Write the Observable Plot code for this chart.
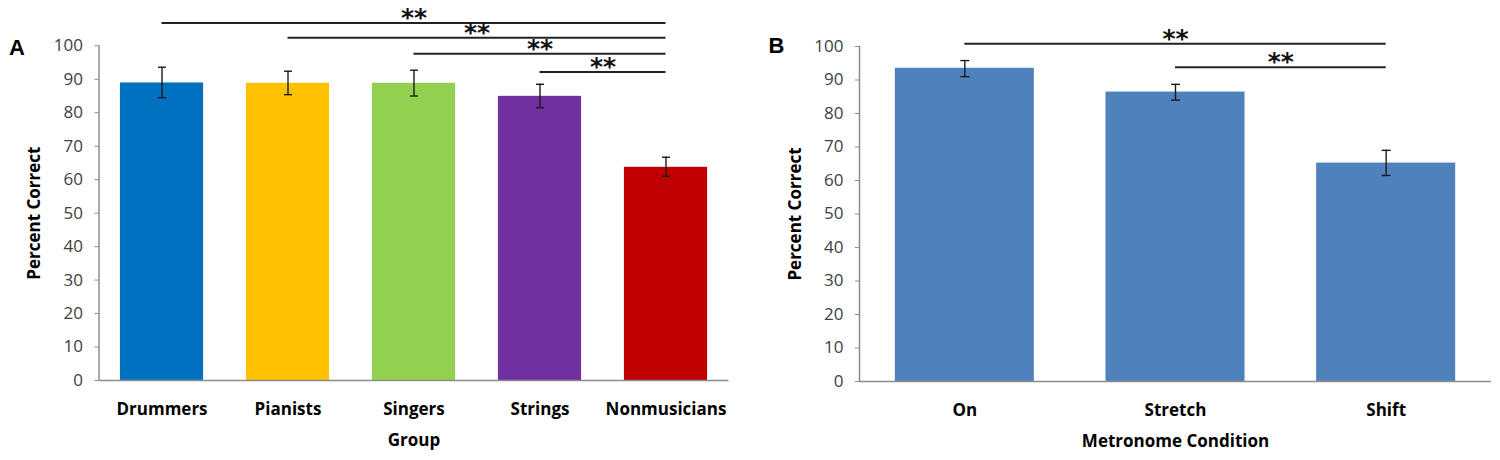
<!DOCTYPE html>
<html>
<head>
<meta charset="utf-8">
<script src="https://cdn.jsdelivr.net/npm/d3@7"></script>
<script src="https://cdn.jsdelivr.net/npm/@observablehq/plot@0.6"></script>
<style>
  html, body { margin: 0; padding: 0; background: #fff; }
  #wrap { display: flex; width: 1500px; height: 460px; overflow: hidden; }
</style>
</head>
<body>
<div id="wrap"></div>
<script>
// ---- Panel A data ----
const catsA = ["Drummers", "Pianists", "Singers", "Strings", "Nonmusicians"];
const meansA = [88.9, 88.8, 88.8, 84.9, 63.7];
const lowA = [84.5, 85.4, 85.0, 81.5, 61.0];
const highA = [93.6, 92.4, 92.7, 88.5, 66.7];
const colorsA = ["#0070C0", "#FFC000", "#92D050", "#7030A0", "#C00000"];
const bracketFromA = ["Drummers", "Pianists", "Singers", "Strings"];
const bracketToA = ["Nonmusicians", "Nonmusicians", "Nonmusicians", "Nonmusicians"];
const bracketLevelA = [106.8, 102.4, 97.6, 92.2];
const bracketSigA = ["**", "**", "**", "**"];

// ---- Panel B data ----
const catsB = ["On", "Stretch", "Shift"];
const meansB = [93.5, 86.4, 65.2];
const lowB = [91.0, 84.0, 61.5];
const highB = [95.8, 88.7, 69.0];
const colorsB = ["#4F81BD", "#4F81BD", "#4F81BD"];
const bracketFromB = ["On", "Stretch"];
const bracketToB = ["Shift", "Shift"];
const bracketLevelB = [100.8, 93.8];
const bracketSigB = ["**", "**"];

const yTicks = [0, 10, 20, 30, 40, 50, 60, 70, 80, 90, 100];

const capSymbol = {
  draw(context, size) {
    const r = Math.sqrt(size / Math.PI);
    context.moveTo(-r, 0);
    context.lineTo(r, 0);
  }
};

function panel(cfg) {
  const n = cfg.cats.length;
  const rows = cfg.cats.map((c, i) => ({i, cat: c, mean: cfg.means[i], lo: cfg.lows[i], hi: cfg.highs[i], color: cfg.colors[i]}));
  const idx = c => cfg.cats.indexOf(c);
  const br = cfg.from.map((f, k) => ({a: idx(f), b: idx(cfg.to[k]), level: cfg.levels[k], sig: cfg.sigs[k]}));
  const axisGray = "#8c8c8c";
  const ink = "#1a1a1a";
  return Plot.plot({
    width: cfg.width,
    height: 460,
    marginLeft: cfg.ml,
    marginRight: cfg.mr,
    marginTop: cfg.mt,
    marginBottom: cfg.mb,
    style: {fontFamily: "'Open Sans', sans-serif", fontSize: "16px", background: "white", overflow: "visible"},
    x: {type: "linear", domain: [-0.5, n - 0.5]},
    y: {domain: [0, 100]},
    marks: [
      Plot.rectY(rows, {x1: d => d.i - 0.33, x2: d => d.i + 0.33, y: "mean", fill: "color"}),
      Plot.ruleX(rows, {x: "i", y1: "lo", y2: "hi", stroke: ink, strokeWidth: 1.4}),
      Plot.dot(rows, {x: "i", y: "lo", symbol: capSymbol, r: cfg.capR, fill: "none", stroke: ink, strokeWidth: 1.4}),
      Plot.dot(rows, {x: "i", y: "hi", symbol: capSymbol, r: cfg.capR, fill: "none", stroke: ink, strokeWidth: 1.4}),
      Plot.ruleX([-0.5], {stroke: axisGray, strokeWidth: 1.5}),
      Plot.ruleY([0], {stroke: axisGray, strokeWidth: 1.5}),
      Plot.axisY({ticks: yTicks, tickSize: 4, tickPadding: 12, stroke: axisGray, fill: "#404040", fontSize: 17, label: null, tickFormat: d => String(d)}),
      Plot.axisX({ticks: d3.range(n), tickSize: 0, tickPadding: 22, tickFormat: i => cfg.cats[i], fill: "#000", fontWeight: "bold", fontSize: 17, label: null}),
      Plot.ruleY(br, {x1: "a", x2: "b", y: "level", stroke: "#222", strokeWidth: 2}),
      Plot.text(br, {x: d => (d.a + d.b) / 2, y: "level", text: "sig", dy: -5, fontFamily: "'DejaVu Sans', sans-serif", fontWeight: "bold", fontSize: 25, fill: "#111"}),
      Plot.text([cfg.ylabel], {frameAnchor: "left", textAnchor: "middle", lineAnchor: "middle", dx: -64, rotate: -90, fontWeight: "bold", fontSize: 17, fill: "#000"}),
      Plot.text([cfg.xlabel], {frameAnchor: "bottom", lineAnchor: "middle", dy: 60, fontWeight: "bold", fontSize: 17, fill: "#000"}),
      Plot.text([cfg.letter], {frameAnchor: "top-left", textAnchor: "middle", lineAnchor: "middle", dx: cfg.letterDx, dy: cfg.letterDy, fontFamily: "'Liberation Sans', Arial, sans-serif", fontWeight: "bold", fontSize: 22, fill: "#000"})
    ]
  });
}

const wrap = document.getElementById("wrap");
wrap.appendChild(panel({
  cats: catsA, means: meansA, lows: lowA, highs: highA, colors: colorsA,
  from: bracketFromA, to: bracketToA, levels: bracketLevelA, sigs: bracketSigA,
  width: 760, ml: 98.5, mr: 31.5, mt: 45.3, mb: 80, capR: 4,
  ylabel: "Percent Correct", xlabel: "Group", letter: "A", letterDx: -82, letterDy: 2
}));
wrap.appendChild(panel({
  cats: catsB, means: meansB, lows: lowB, highs: highB, colors: colorsB,
  from: bracketFromB, to: bracketToB, levels: bracketLevelB, sigs: bracketSigB,
  width: 740, ml: 99, mr: 9, mt: 46, mb: 79, capR: 4.5,
  ylabel: "Percent Correct", xlabel: "Metronome Condition", letter: "B", letterDx: -83, letterDy: -0.5
}));
</script>
</body>
</html>
